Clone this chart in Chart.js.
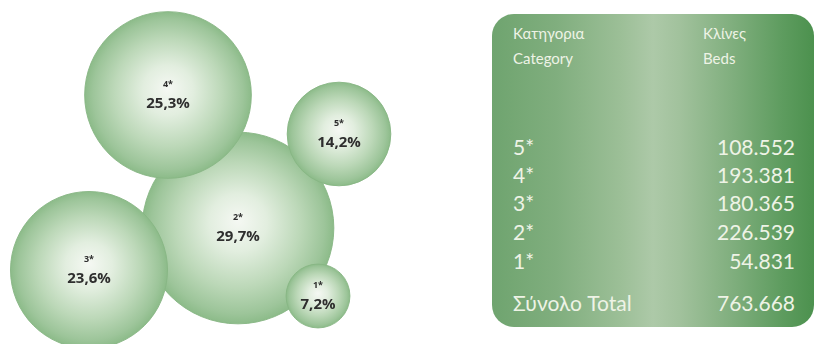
<!DOCTYPE html>
<html>
<head>
<meta charset="utf-8">
<script src="https://cdn.jsdelivr.net/npm/chart.js@4.4.1/dist/chart.umd.min.js"></script>
<style>
  body { margin: 0; background: #fff; width: 820px; height: 344px; overflow: hidden; position: relative; font-family: Lato, "Noto Sans", sans-serif; }
  #bubbles { position: absolute; left: 0; top: 0; }
  #tbl {
    position: absolute; left: 492px; top: 14px; width: 322px; height: 313px;
    border-radius: 22px;
    background: linear-gradient(90deg, #6fa46f 0%, #80ae7e 20%, #9cbf97 40%, #adc9a8 50%, #a2c29d 58%, #7fae7d 75%, #5e9c5f 90%, #4c914e 100%);
    color: #eef3e6;
  }
  #tbl div { position: absolute; white-space: nowrap; }
  .hd { font-size: 15px; line-height: 18px; }
  .rw { font-size: 21px; line-height: 28px; }
</style>
</head>
<body>
<canvas id="bubbles" width="440" height="344"></canvas>
<div id="tbl"></div>
<script>
var categories = ['5*', '4*', '3*', '2*', '1*'];
var beds = [108552, 193381, 180365, 226539, 54831];
var bedsTotal = 763668;
var shares = [14.2, 25.3, 23.6, 29.7, 7.2];

// where each bubble sits on the (hidden) x / y scales
var bubbleX = [339, 168, 89, 238, 318];
var bubbleY = [134, 95, 270, 228, 296];
var drawOrder = [3, 0, 1, 2, 4]; // 2* goes underneath the others

function fmtPct(v) { return v.toFixed(1).replace('.', ',') + '%'; }
function fmtNum(v) { return String(v).replace(/\B(?=(\d{3})+(?!\d))/g, '.'); }

// table on the right
var tbl = document.getElementById('tbl');
function put(text, cls, top, left, right) {
    var d = document.createElement('div');
    d.className = cls;
    d.textContent = text;
    d.style.top = top + 'px';
    if (left != null) d.style.left = left + 'px';
    if (right != null) d.style.right = right + 'px';
    tbl.appendChild(d);
}
put('Κατηγορια', 'hd', 10, 21);
put('Category', 'hd', 35, 21);
put('Κλίνες', 'hd', 10, 211);
put('Beds', 'hd', 35, 211);
var rowTop = [119, 147, 175, 204, 233];
categories.forEach(function(cat, i) {
    put(cat, 'rw', rowTop[i], 21);
    put(fmtNum(beds[i]), 'rw', rowTop[i], null, 19);
});
put('Σύνολο Total', 'rw', 275, 21);
put(fmtNum(bedsTotal), 'rw', 275, null, 19);

var points = drawOrder.map(function(i) {
    return { x: bubbleX[i], y: bubbleY[i], v: shares[i], label: categories[i] };
});

function radiusFor(v) { return 2.84 * v + 11.5; }

var labelPlugin = {
    id: 'bubbleLabels',
    afterDatasetsDraw: function(chart) {
        var c = chart.ctx;
        var meta = chart.getDatasetMeta(0);
        c.save();
        c.fillStyle = '#2e2e2e';
        c.textAlign = 'center';
        c.textBaseline = 'middle';
        meta.data.forEach(function(el, i) {
            var p = points[i];
            c.font = 'bold 9px "Open Sans", sans-serif';
            c.fillText(p.label, el.x, el.y - 11);
            c.font = 'bold 15px "Open Sans", sans-serif';
            c.fillText(fmtPct(p.v), el.x, el.y + 9);
        });
        c.restore();
    }
};

var bubbleChart = new Chart(document.getElementById('bubbles'), {
    type: 'bubble',
    data: {
        datasets: [{
            data: points,
            clip: false,
            radius: function(ctx) { return ctx.raw ? radiusFor(ctx.raw.v) : 0; },
            hoverRadius: 0,
            borderWidth: 1,
            borderColor: 'rgba(135,182,132,0.9)',
            backgroundColor: function(ctx) {
                var chart = ctx.chart;
                if (!ctx.raw || !chart.scales.x || !chart.scales.y) return '#a9cca5';
                var px = chart.scales.x.getPixelForValue(ctx.raw.x);
                var py = chart.scales.y.getPixelForValue(ctx.raw.y);
                if (!isFinite(px) || !isFinite(py)) return '#a9cca5';
                var r = radiusFor(ctx.raw.v);
                var g = chart.ctx.createRadialGradient(px, py - r * 0.08, 0, px, py, r);
                g.addColorStop(0, '#f5f8f3');
                g.addColorStop(0.3, '#e2eedf');
                g.addColorStop(0.65, '#bcd8b8');
                g.addColorStop(0.9, '#9dc59a');
                g.addColorStop(1, '#8cbb89');
                return g;
            }
        }]
    },
    options: {
        responsive: false,
        animation: false,
        devicePixelRatio: 1,
        layout: { padding: 0, autoPadding: false },
        scales: {
            x: { type: 'linear', min: 0, max: 440, display: false },
            y: { type: 'linear', min: 0, max: 344, reverse: true, display: false }
        },
        plugins: {
            legend: { display: false },
            tooltip: { enabled: false }
        }
    },
    plugins: [labelPlugin]
});
</script>
</body>
</html>
